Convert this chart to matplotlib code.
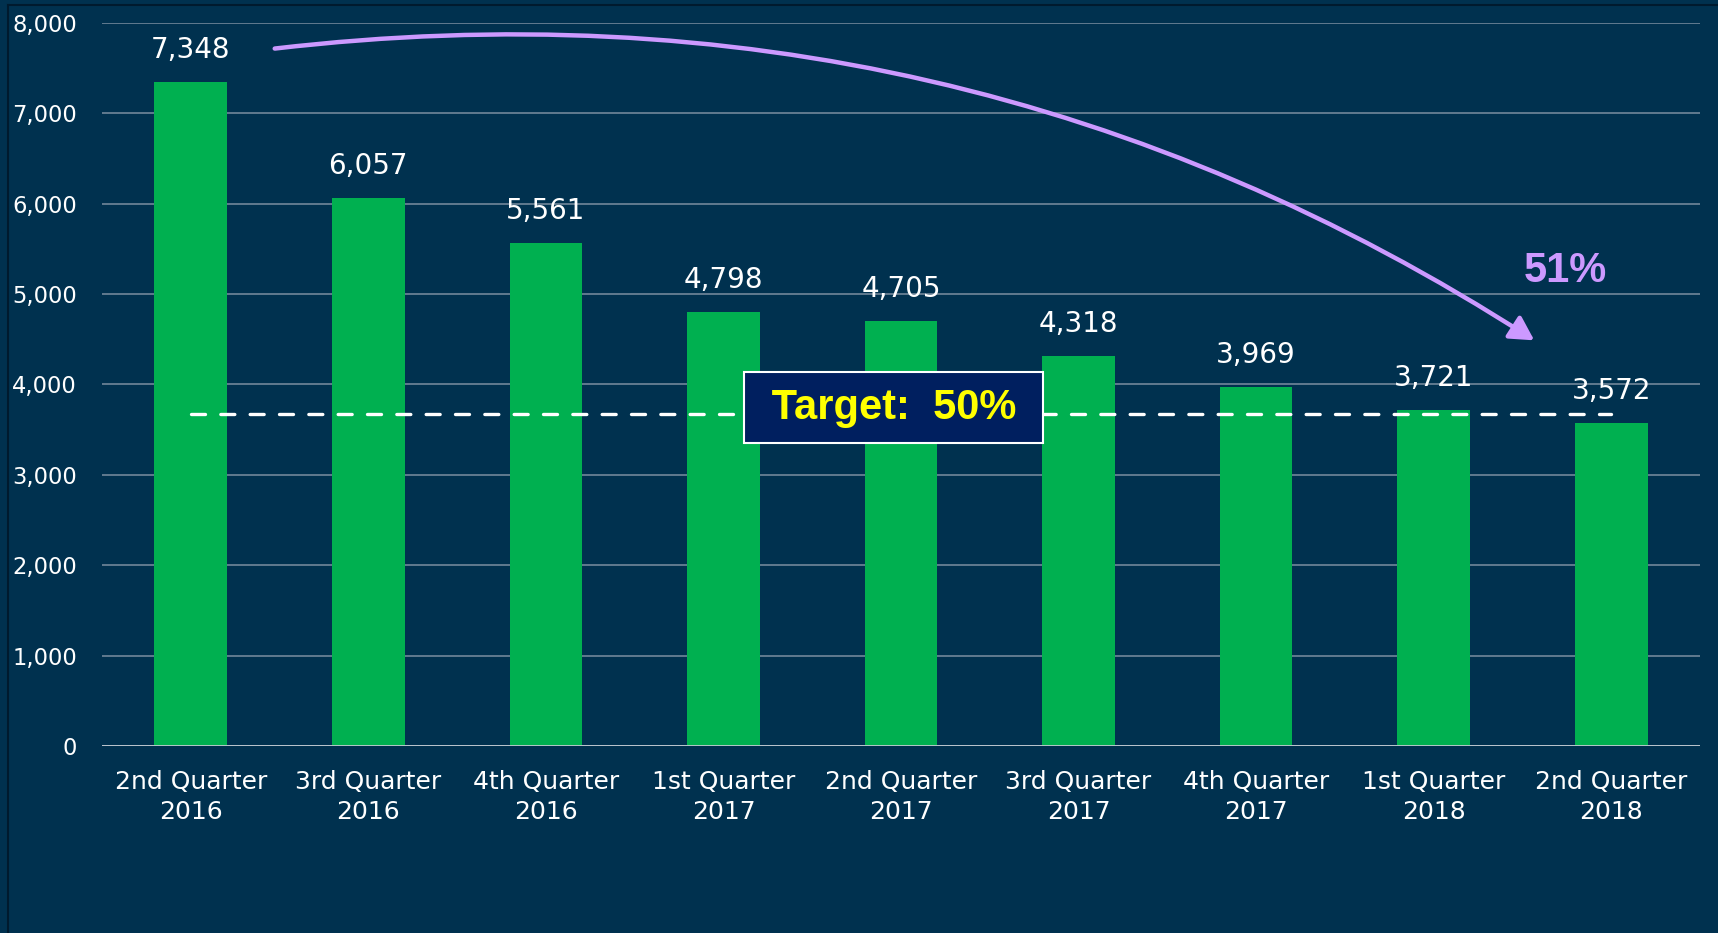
import matplotlib.pyplot as plt
from matplotlib.patches import FancyArrowPatch
from matplotlib.lines import Line2D

# data
quarters = ['2nd Quarter\n2016', '3rd Quarter\n2016', '4th Quarter\n2016',
            '1st Quarter\n2017', '2nd Quarter\n2017', '3rd Quarter\n2017',
            '4th Quarter\n2017', '1st Quarter\n2018', '2nd Quarter\n2018']
counts = [7348, 6057, 5561, 4798, 4705, 4318, 3969, 3721, 3572]
target_share = 0.50
target_value = counts[0] * target_share
y_ticks = [0, 1000, 2000, 3000, 4000, 5000, 6000, 7000, 8000]

bg = '#00314F'
green = '#00B050'
lavender = '#CC99FF'

fig = plt.figure(figsize=(17.18, 9.33), dpi=100, facecolor=bg)
ax = fig.add_axes([0.0594, 0.2004, 0.9301, 0.7753])
ax.set_facecolor(bg)

x = list(range(len(quarters)))
ax.bar(x, counts, width=0.41, color=green, zorder=3)

ax.set_xlim(-0.5, len(quarters) - 0.5)
ax.set_ylim(0, 8000)
ax.set_yticks(y_ticks)
ax.set_yticklabels([f'{v:,}' for v in y_ticks])
ax.set_xticks(x)
ax.set_xticklabels(quarters, linespacing=1.36)

ax.tick_params(axis='y', length=0, pad=18, labelsize=16.3, labelcolor='white')
ax.tick_params(axis='x', length=0, pad=17, labelsize=18, labelcolor='white')
for s in ax.spines.values():
    s.set_visible(False)

ax.grid(axis='y', color='#71879A', linewidth=1.2, zorder=0)
ax.set_axisbelow(True)
ax.axhline(0, color='#C4CCD3', linewidth=2, zorder=4)

# value labels
for i, v in enumerate(counts):
    ax.annotate(f'{v:,}', (i, v), xytext=(0, 13), textcoords='offset points',
                ha='center', va='bottom', fontsize=20, color='white')

# target line
ax.plot([0, len(quarters) - 1], [target_value, target_value], color='white',
        linestyle=(0, (4.2, 4.6)), dash_capstyle='round', linewidth=2.4, zorder=5)
ax.text(3.96, 3740, f' Target:  {int(target_share * 100)}% ',
        family='Liberation Sans', weight='bold', fontsize=30, color='#FFFF00',
        ha='center', va='center', zorder=6,
        bbox=dict(boxstyle='square,pad=0.37', facecolor='#001F5F',
                  edgecolor='white', linewidth=1.5))

# decline arrow
drop = 1 - counts[-1] / counts[0]
arrow = FancyArrowPatch((0.457, 7710), (7.58, 4470),
                        connectionstyle='arc3,rad=-0.18',
                        arrowstyle='-|>,head_length=0.65,head_width=0.36',
                        mutation_scale=22, color=lavender, linewidth=3.2,
                        zorder=7, clip_on=False)
ax.add_patch(arrow)
ax.text(7.74, 5250, f'{round(drop * 100)}%', family='Liberation Sans',
        weight='bold', fontsize=30, color=lavender, ha='center', va='center')

# thin dark frame at the slide edge
fig.add_artist(Line2D([8 / 1718, 8 / 1718], [0, 1 - 5 / 933],
                      transform=fig.transFigure, color='#001A2E', linewidth=1.5))
fig.add_artist(Line2D([8 / 1718, 1], [1 - 5 / 933, 1 - 5 / 933],
                      transform=fig.transFigure, color='#001A2E', linewidth=1.5))

fig.savefig('out.png', dpi=100, facecolor=bg)
